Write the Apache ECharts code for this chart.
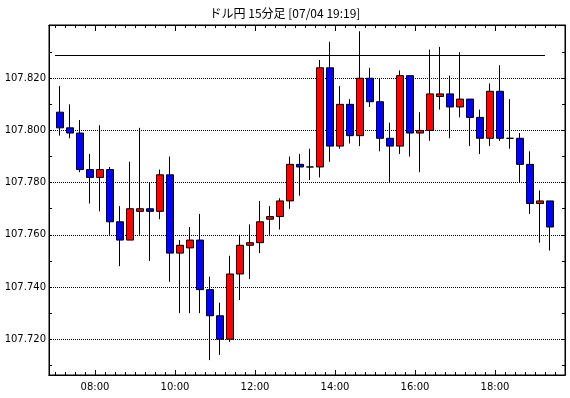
<!DOCTYPE html>
<html><head><meta charset="utf-8">
<script src="https://cdn.jsdelivr.net/npm/echarts@6/dist/echarts.min.js"></script>
<style>html,body{margin:0;padding:0;background:#fff}#c{width:570px;height:398px}</style>
</head><body><div id="c"></div>
<script>
const title = 'ドル円 15分足 [07/04 19:19]';
const times = ['07:00','07:15','07:30','07:45','08:00','08:15','08:30','08:45','09:00','09:15',
  '09:30','09:45','10:00','10:15','10:30','10:45','11:00','11:15','11:30','11:45',
  '12:00','12:15','12:30','12:45','13:00','13:15','13:30','13:45','14:00','14:15',
  '14:30','14:45','15:00','15:15','15:30','15:45','16:00','16:15','16:30','16:45',
  '17:00','17:15','17:30','17:45','18:00','18:15','18:30','18:45','19:00','19:15'];
const opens = [107.807,107.801,107.799,107.785,107.782,107.785,107.765,107.758,107.769,107.770,
  107.769,107.783,107.753,107.755,107.758,107.739,107.729,107.720,107.745,107.756,
  107.757,107.766,107.767,107.773,107.787,107.786,107.786,107.824,107.794,107.810,
  107.798,107.820,107.811,107.797,107.794,107.821,107.799,107.800,107.813,107.814,
  107.809,107.812,107.805,107.797,107.815,107.797,107.797,107.787,107.772,107.773];
const closes = [107.801,107.799,107.785,107.782,107.785,107.765,107.758,107.770,107.770,107.769,
  107.783,107.753,107.756,107.758,107.739,107.729,107.720,107.745,107.756,107.757,
  107.765,107.767,107.773,107.787,107.786,107.786,107.824,107.794,107.810,107.798,
  107.820,107.811,107.797,107.794,107.821,107.799,107.800,107.814,107.814,107.809,
  107.812,107.805,107.797,107.815,107.797,107.797,107.787,107.772,107.773,107.763];
const lows = [107.798,107.797,107.784,107.772,107.769,107.760,107.748,107.758,107.760,107.750,
  107.766,107.742,107.730,107.730,107.730,107.712,107.714,107.719,107.735,107.743,
  107.753,107.760,107.762,107.770,107.775,107.781,107.782,107.788,107.793,107.795,
  107.794,107.809,107.792,107.780,107.791,107.790,107.784,107.796,107.808,107.797,
  107.805,107.794,107.791,107.794,107.796,107.793,107.780,107.768,107.757,107.754];
const highs = [107.817,107.810,107.804,107.791,107.802,107.786,107.771,107.788,107.801,107.780,
  107.785,107.790,107.758,107.763,107.768,107.744,107.734,107.752,107.760,107.764,
  107.773,107.771,107.774,107.790,107.791,107.793,107.827,107.834,107.817,107.812,
  107.838,107.824,107.820,107.803,107.823,107.821,107.807,107.831,107.832,107.821,
  107.830,107.812,107.808,107.818,107.825,107.812,107.799,107.792,107.777,107.773];
const refLevel = 107.829;
const xLabels = ['08:00','10:00','12:00','14:00','16:00','18:00'];
const yLabels = [107.720,107.740,107.760,107.780,107.800,107.820];
const yTicks = [107.710,107.720,107.730,107.740,107.750,107.760,107.770,107.780,107.790,107.800,107.810,107.820,107.830];

const toMin = s => { const p = s.split(':'); return (+p[0]) * 60 + (+p[1]); };
const fmt = m => String(Math.floor(m / 60)).padStart(2, '0') + ':' + String(m % 60).padStart(2, '0');
const barMin = 15;
const xMin = 411, xMax = 1185;
const yMin = 107.7063, yMax = 107.8404;
const majorX = xLabels.map(toMin);
const minorX = times.map(toMin).concat([toMin('19:30')]);

const candleData = times.map((t, i) => {
  const item = { value: [toMin(t) + barMin / 2, opens[i], closes[i], lows[i], highs[i]] };
  if (opens[i] === closes[i]) item.itemStyle = { color: '#000', color0: '#000', borderColor: '#000', borderColor0: '#000' };
  return item;
});

const font = 'DejaVu Sans';
const baseX = (pos, vals, len, showLabel) => ({
  type: 'value', position: pos, min: xMin, max: xMax, gridIndex: 0,
  axisLine: { show: true, lineStyle: { color: '#000', width: 1 } },
  axisTick: { show: true, inside: true, length: len, customValues: vals, lineStyle: { color: '#000', width: 1 } },
  axisLabel: { show: showLabel, customValues: vals, formatter: v => fmt(v), color: '#000', fontFamily: font, fontSize: 10, margin: 7 },
  splitLine: { show: false }
});
const chart = echarts.init(document.getElementById('c'), null, { renderer: 'canvas' });
chart.setOption({
  animation: false,
  backgroundColor: '#fff',
  title: { text: title, left: 'center', top: 2, textStyle: { fontFamily: 'Noto Sans CJK JP', fontSize: 12, fontWeight: 'normal', color: '#000' } },
  grid: { left: 49, right: 5, top: 25, bottom: 23, show: true, borderColor: '#000', borderWidth: 1, backgroundColor: 'transparent' },
  xAxis: [
    baseX('bottom', majorX, 5, true),
    baseX('bottom', minorX, 3, false),
    baseX('top', majorX, 6, false),
    baseX('top', minorX, 3, false)
  ],
  yAxis: [
    { type: 'value', position: 'left', min: yMin, max: yMax, scale: true,
      axisLine: { show: true, lineStyle: { color: '#000' } },
      axisTick: { show: true, inside: true, length: 3, customValues: yTicks, lineStyle: { color: '#000' } },
      axisLabel: { show: true, customValues: yLabels, formatter: v => v.toFixed(3), color: '#000', fontFamily: font, fontSize: 10, margin: 3 },
      splitLine: { show: false } },
    { type: 'value', position: 'right', min: yMin, max: yMax, scale: true,
      axisLine: { show: true, lineStyle: { color: '#000' } },
      axisTick: { show: true, inside: true, length: 3, customValues: yTicks, lineStyle: { color: '#000' } },
      axisLabel: { show: false },
      splitLine: { show: false } },
    { type: 'value', position: 'left', min: yMin, max: yMax, scale: true,
      axisLine: { show: false }, axisLabel: { show: false },
      axisTick: { show: false, customValues: yLabels },
      splitLine: { show: true, lineStyle: { color: '#000', width: 1, type: [1, 1] } } }
  ],
  series: [{
    type: 'candlestick',
    xAxisIndex: 0, yAxisIndex: 0,
    barWidth: 7,
    encode: { x: 0, y: [1, 2, 3, 4] },
    data: candleData,
    itemStyle: { color: '#ff0000', color0: '#0000ff', borderColor: '#000', borderColor0: '#000', borderWidth: 1 },
    markLine: {
      silent: true, symbol: 'none', label: { show: false },
      lineStyle: { color: '#000', width: 1, type: 'solid' },
      data: [[{ coord: [toMin(times[0]), refLevel] }, { coord: [toMin(times[times.length - 1]), refLevel] }]]
    }
  }]
});
</script></body></html>
